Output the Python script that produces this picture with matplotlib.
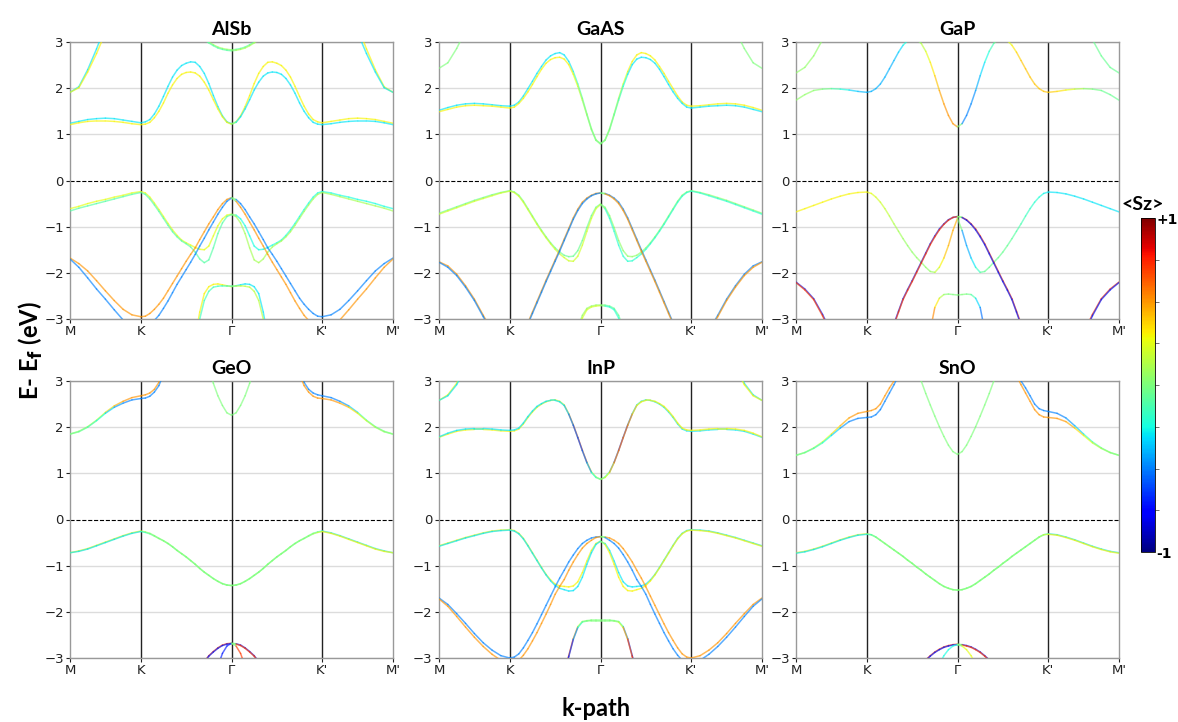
import matplotlib
matplotlib.use('Agg')
import matplotlib.pyplot as plt
from matplotlib.collections import LineCollection
from matplotlib.colors import Normalize
from matplotlib.cm import ScalarMappable
from matplotlib.ticker import MultipleLocator
import numpy as np

# k-path: high-symmetry points and the sampled points on the half path M -> K -> Gamma
k_labels = ['M', 'K', 'Γ', "K'", "M'"]
k_nodes = [0.0, 0.78, 1.78, 2.78, 3.56]
k_half = [0.0, 0.0975, 0.195, 0.2925, 0.39, 0.4875, 0.585, 0.6825, 0.78,
          0.83, 0.88, 0.93, 0.98, 1.03, 1.08, 1.13, 1.18, 1.23, 1.28,
          1.33, 1.38, 1.43, 1.48, 1.53, 1.58, 1.63, 1.68, 1.73, 1.78]

# band energies (eV) read on the half path M -> K -> Gamma (29 points);
# the Gamma -> K' -> M' half is the time-reversed copy (same E, opposite <Sz>)
HI = 4.5
LO = -4.5

alsb_e = [
    [1.91, 2.03, 2.40, 2.85, 3.35, 3.90] + [HI] * 23,
    [1.91, 2.01, 2.35, 2.75, 3.20, 3.80] + [HI] * 23,
    [1.24, 1.28, 1.32, 1.34, 1.35, 1.34, 1.31, 1.28, 1.25,
     1.27, 1.32, 1.44, 1.61, 1.82, 2.04, 2.24, 2.39, 2.49, 2.54,
     2.57, 2.56, 2.47, 2.32, 2.10, 1.84, 1.60, 1.40, 1.27, 1.23],
    [1.21, 1.25, 1.28, 1.29, 1.29, 1.28, 1.26, 1.23, 1.21,
     1.22, 1.26, 1.36, 1.50, 1.68, 1.89, 2.07, 2.21, 2.30, 2.34,
     2.35, 2.33, 2.26, 2.13, 1.96, 1.75, 1.55, 1.38, 1.26, 1.22],
    [HI] * 22 + [3.07, 3.00, 2.94, 2.89, 2.86, 2.84, 2.83],
    [HI] * 22 + [3.05, 2.98, 2.92, 2.87, 2.84, 2.82, 2.81],
    [-0.61, -0.56, -0.50, -0.45, -0.41, -0.36, -0.32, -0.27, -0.24,
     -0.27, -0.36, -0.49, -0.63, -0.78, -0.93, -1.07, -1.19, -1.29, -1.35,
     -1.40, -1.45, -1.49, -1.50, -1.42, -1.20, -0.98, -0.83, -0.75, -0.73],
    [-0.66, -0.60, -0.55, -0.50, -0.45, -0.40, -0.35, -0.30, -0.26,
     -0.30, -0.40, -0.53, -0.67, -0.82, -0.97, -1.11, -1.22, -1.31, -1.37,
     -1.44, -1.55, -1.70, -1.78, -1.72, -1.46, -1.15, -0.92, -0.78, -0.74],
    [-1.68, -1.80, -1.96, -2.17, -2.39, -2.60, -2.79, -2.91, -2.95,
     -2.94, -2.88, -2.79, -2.68, -2.55, -2.39, -2.23, -2.07, -1.91, -1.75,
     -1.60, -1.46, -1.28, -1.11, -0.94, -0.79, -0.63, -0.50, -0.41, -0.37],
    [-1.70, -1.88, -2.11, -2.35, -2.57, -2.80, -3.02, -3.18, -3.25,
     -3.22, -3.12, -3.03, -2.92, -2.77, -2.61, -2.43, -2.25, -2.09, -1.93,
     -1.77, -1.60, -1.42, -1.25, -1.07, -0.90, -0.73, -0.58, -0.45, -0.38],
    [LO] * 20 + [-3.40, -2.85, -2.45, -2.30, -2.25, -2.24, -2.26, -2.28, -2.30],
    [LO] * 20 + [-3.50, -3.00, -2.60, -2.40, -2.31, -2.29, -2.28, -2.28, -2.28],
]
alsb_sz = [-0.3, 0.3, -0.3, 0.3, 0.1, -0.1, 0.25, -0.1, 0.5, -0.5, 0.3, -0.15]

gaas_e = [
    [2.43, 2.55, 2.86, 3.25, 3.70, 4.20] + [HI] * 23,
    [1.52, 1.58, 1.63, 1.66, 1.67, 1.66, 1.64, 1.62, 1.61,
     1.63, 1.70, 1.83, 1.99, 2.15, 2.32, 2.47, 2.61, 2.70, 2.75,
     2.77, 2.72, 2.58, 2.36, 2.09, 1.78, 1.44, 1.12, 0.88, 0.80],
    [1.49, 1.54, 1.59, 1.62, 1.63, 1.62, 1.61, 1.59, 1.57,
     1.59, 1.67, 1.78, 1.92, 2.08, 2.25, 2.41, 2.54, 2.62, 2.66,
     2.67, 2.63, 2.51, 2.30, 2.04, 1.74, 1.42, 1.10, 0.87, 0.79],
    [-0.71, -0.64, -0.57, -0.50, -0.43, -0.37, -0.31, -0.26, -0.22,
     -0.25, -0.32, -0.45, -0.61, -0.77, -0.93, -1.08, -1.22, -1.35, -1.46,
     -1.55, -1.62, -1.65, -1.64, -1.52, -1.30, -1.02, -0.76, -0.58, -0.51],
    [-0.73, -0.66, -0.59, -0.52, -0.45, -0.39, -0.33, -0.27, -0.23,
     -0.26, -0.34, -0.47, -0.63, -0.79, -0.95, -1.10, -1.24, -1.37, -1.49,
     -1.59, -1.67, -1.74, -1.75, -1.64, -1.40, -1.10, -0.82, -0.61, -0.52],
    [-1.76, -1.85, -2.03, -2.28, -2.57, -2.92, -3.25, -3.60, -3.80,
     -3.75, -3.60, -3.35, -3.08, -2.85, -2.62, -2.39, -2.16, -1.94, -1.72,
     -1.50, -1.27, -1.04, -0.81, -0.62, -0.47, -0.38, -0.32, -0.28, -0.27],
    [-1.77, -1.88, -2.06, -2.31, -2.60, -2.95, -3.28, -3.62, -3.80,
     -3.77, -3.62, -3.38, -3.11, -2.88, -2.65, -2.42, -2.19, -1.97, -1.75,
     -1.53, -1.30, -1.07, -0.84, -0.65, -0.50, -0.40, -0.33, -0.29, -0.27],
    [LO] * 22 + [-3.60, -3.20, -2.92, -2.77, -2.72, -2.70, -2.70],
    [LO] * 22 + [-3.70, -3.30, -2.98, -2.80, -2.74, -2.72, -2.71],
]
gaas_sz = [
    0.0,
    [-0.3] * 23 + [-0.2, -0.1, -0.05, 0.0, 0.0, 0.0],
    [0.3] * 23 + [0.2, 0.1, 0.05, 0.0, 0.0, 0.0],
    -0.05, 0.2, 0.5, -0.5, 0.05, 0.2,
]

gap_e = [
    [2.33, 2.45, 2.70, 3.05, 3.50, 4.00] + [HI] * 23,
    [1.74, 1.86, 1.95, 1.98, 1.99, 1.98, 1.96, 1.93, 1.91,
     1.93, 1.99, 2.09, 2.24, 2.42, 2.60, 2.78, 2.93, 3.03, 3.08,
     3.06, 2.97, 2.80, 2.56, 2.27, 1.95, 1.66, 1.41, 1.23, 1.16],
    [-0.68, -0.61, -0.54, -0.47, -0.40, -0.34, -0.29, -0.26, -0.25,
     -0.28, -0.36, -0.47, -0.61, -0.77, -0.94, -1.10, -1.26, -1.41, -1.55,
     -1.67, -1.77, -1.88, -1.97, -1.99, -1.88, -1.68, -1.41, -1.08, -0.82],
    [-2.20, -2.35, -2.56, -2.90, -3.30, -3.70, -4.00, -4.30, LO,
     -4.40, -4.20, -3.90, -3.60, -3.35, -3.10, -2.83, -2.56, -2.36, -2.17,
     -1.97, -1.77, -1.57, -1.37, -1.20, -1.05, -0.94, -0.85, -0.80, -0.78],
    [-2.21, -2.37, -2.58, -2.93, -3.35, -3.72, -4.00, -4.30, LO,
     -4.40, -4.20, -3.92, -3.62, -3.37, -3.13, -2.85, -2.58, -2.38, -2.19,
     -1.99, -1.79, -1.59, -1.39, -1.22, -1.07, -0.95, -0.86, -0.80, -0.78],
    [LO] * 22 + [-3.25, -2.75, -2.55, -2.47, -2.46, -2.47, -2.48],
]
gap_sz = [
    0.05,
    [0.05, 0.05, 0.05, 0.0, -0.05, -0.2, -0.3, -0.38, -0.4,
     -0.4, -0.4, -0.4, -0.4, -0.4, -0.4, -0.35, -0.3, -0.2, -0.1,
     0.0, 0.1, 0.2, 0.3, 0.35, 0.45, 0.5, 0.5, 0.5, 0.5],
    [0.3] * 9 + [0.25, 0.22, 0.2, 0.18, 0.15, 0.12, 0.1, 0.08, 0.05, 0.05,
                 0.05, 0.05, 0.05, 0.05, 0.1, 0.25, 0.35, 0.45, 0.45, 0.45],
    -0.7,
    0.7,
    [0.6] * 23 + [0.45, 0.2, 0.05, 0.0, 0.0, 0.0],
]

geo_e = [
    [1.85, 1.91, 2.01, 2.15, 2.32, 2.46, 2.56, 2.64, 2.68,
     2.70, 2.74, 2.82, 2.97, 3.25, 3.60] + [HI] * 14,
    [1.85, 1.90, 2.00, 2.14, 2.30, 2.43, 2.52, 2.59, 2.62,
     2.63, 2.67, 2.76, 2.90, 3.15, 3.50] + [HI] * 14,
    [HI] * 22 + [4.00, 3.30, 2.95, 2.68, 2.47, 2.31, 2.26],
    [-0.72, -0.68, -0.63, -0.56, -0.49, -0.42, -0.35, -0.29, -0.25,
     -0.27, -0.30, -0.35, -0.41, -0.46, -0.52, -0.59, -0.67, -0.74, -0.81,
     -0.89, -0.97, -1.06, -1.14, -1.21, -1.28, -1.34, -1.39, -1.42, -1.43],
    [-0.72, -0.69, -0.64, -0.57, -0.50, -0.43, -0.36, -0.30, -0.26,
     -0.28, -0.31, -0.36, -0.41, -0.46, -0.52, -0.59, -0.67, -0.74, -0.81,
     -0.89, -0.97, -1.06, -1.14, -1.21, -1.28, -1.34, -1.39, -1.42, -1.43],
    [LO] * 21 + [-3.22, -3.08, -2.95, -2.86, -2.78, -2.72, -2.69, -2.68],
    [LO] * 21 + [-3.23, -3.09, -2.96, -2.87, -2.79, -2.73, -2.70, -2.69],
    [LO] * 24 + [-3.57, -3.18, -2.90, -2.74, -2.68],
]
geo_sz = [
    [0.0, 0.05, 0.1, 0.2, 0.3, 0.4, 0.5, 0.5, 0.5] + [0.5] * 20,
    [0.0, -0.05, -0.1, -0.2, -0.3, -0.4, -0.5, -0.5, -0.5] + [-0.5] * 20,
    0.0,
    [0.3] * 9 + [0.15, 0.05] + [0.0] * 18,
    [-0.3] * 9 + [-0.15, -0.05] + [0.0] * 18,
    0.7,
    -0.7,
    -0.7,
]

inp_e = [
    [2.58, 2.70, 2.95, 3.35, 3.80, 4.20] + [HI] * 23,
    [2.58, 2.68, 2.92, 3.30, 3.75, 4.20] + [HI] * 23,
    [1.78, 1.85, 1.91, 1.94, 1.95, 1.95, 1.94, 1.92, 1.91,
     1.92, 1.96, 2.07, 2.21, 2.33, 2.43, 2.50, 2.55, 2.58, 2.59,
     2.56, 2.48, 2.29, 2.05, 1.78, 1.50, 1.24, 1.03, 0.92, 0.87],
    [1.79, 1.87, 1.93, 1.96, 1.97, 1.97, 1.96, 1.94, 1.93,
     1.94, 1.98, 2.09, 2.23, 2.35, 2.45, 2.51, 2.56, 2.58, 2.58,
     2.55, 2.47, 2.28, 2.04, 1.77, 1.49, 1.23, 1.02, 0.91, 0.87],
    [-0.57, -0.51, -0.45, -0.39, -0.34, -0.29, -0.25, -0.23, -0.22,
     -0.24, -0.30, -0.41, -0.56, -0.72, -0.88, -1.04, -1.19, -1.31, -1.40,
     -1.44, -1.45, -1.46, -1.44, -1.35, -1.15, -0.90, -0.67, -0.52, -0.47],
    [-0.58, -0.52, -0.46, -0.40, -0.35, -0.30, -0.26, -0.24, -0.23,
     -0.25, -0.31, -0.42, -0.57, -0.73, -0.89, -1.05, -1.20, -1.33, -1.43,
     -1.49, -1.52, -1.55, -1.54, -1.45, -1.25, -0.97, -0.72, -0.54, -0.47],
    [-1.70, -1.84, -2.04, -2.25, -2.47, -2.67, -2.83, -2.95, -3.00,
     -2.98, -2.91, -2.78, -2.62, -2.45, -2.26, -2.06, -1.86, -1.66, -1.46,
     -1.27, -1.10, -0.92, -0.77, -0.63, -0.52, -0.45, -0.40, -0.38, -0.37],
    [-1.72, -1.88, -2.10, -2.33, -2.55, -2.75, -2.92, -3.05, -3.10,
     -3.09, -3.05, -2.94, -2.80, -2.63, -2.45, -2.25, -2.05, -1.84, -1.62,
     -1.45, -1.30, -1.10, -0.92, -0.76, -0.62, -0.52, -0.45, -0.39, -0.37],
    [LO] * 20 + [-3.35, -2.95, -2.58, -2.32, -2.21, -2.19, -2.18, -2.18, -2.18],
    [LO] * 20 + [-3.37, -2.97, -2.60, -2.34, -2.22, -2.20, -2.19, -2.19, -2.19],
]
inp_sz = [
    0.3, -0.3,
    [0.3] * 21 + [0.45, 0.55, 0.6, 0.6, 0.5, 0.35, 0.15, 0.0],
    [-0.3] * 21 + [-0.45, -0.55, -0.6, -0.6, -0.5, -0.35, -0.15, 0.0],
    0.3, -0.3, -0.5, 0.5,
    [0.7] * 22 + [0.6, 0.35, 0.1, 0.0, 0.0, 0.0, 0.0],
    [-0.7] * 22 + [-0.6, -0.35, -0.1, 0.0, 0.0, 0.0, 0.0],
]

sno_e = [
    [1.39, 1.45, 1.55, 1.68, 1.85, 2.03, 2.20, 2.30, 2.34,
     2.36, 2.40, 2.50, 2.68, 2.85, 3.00, 3.20, 3.50] + [HI] * 12,
    [1.39, 1.45, 1.54, 1.66, 1.82, 1.98, 2.12, 2.19, 2.21,
     2.22, 2.27, 2.38, 2.56, 2.74, 2.92, 3.12, 3.40] + [HI] * 12,
    [HI] * 19 + [3.40, 3.00, 2.73, 2.48, 2.24, 2.01, 1.80, 1.61, 1.47, 1.41],
    [-0.72, -0.69, -0.64, -0.58, -0.51, -0.44, -0.38, -0.33, -0.31,
     -0.33, -0.38, -0.45, -0.52, -0.59, -0.66, -0.73, -0.80, -0.88, -0.95,
     -1.03, -1.10, -1.18, -1.25, -1.32, -1.39, -1.45, -1.49, -1.52, -1.53],
    [-0.73, -0.70, -0.65, -0.59, -0.52, -0.45, -0.39, -0.34, -0.32,
     -0.33, -0.38, -0.45, -0.52, -0.59, -0.66, -0.73, -0.80, -0.88, -0.95,
     -1.03, -1.10, -1.18, -1.25, -1.32, -1.39, -1.45, -1.49, -1.52, -1.53],
    [LO] * 20 + [-3.15, -3.04, -2.95, -2.87, -2.81, -2.76, -2.73, -2.71, -2.70],
    [LO] * 20 + [-3.16, -3.05, -2.96, -2.88, -2.82, -2.77, -2.74, -2.72, -2.71],
    [LO] * 23 + [-3.38, -3.14, -2.95, -2.82, -2.74, -2.71],
]
sno_sz = [
    [0.0, 0.05, 0.1, 0.2, 0.3, 0.4, 0.5, 0.5, 0.5] + [0.5] * 20,
    [0.0, -0.05, -0.1, -0.2, -0.3, -0.4, -0.5, -0.5, -0.5] + [-0.5] * 20,
    0.0,
    [0.3] * 9 + [0.15, 0.05] + [0.0] * 18,
    [-0.3] * 9 + [-0.15, -0.05] + [0.0] * 18,
    0.7,
    -0.7,
    -0.25,
]

titles = ['AlSb', 'GaAS', 'GaP', 'GeO', 'InP', 'SnO']
panels = [(alsb_e, alsb_sz), (gaas_e, gaas_sz), (gap_e, gap_sz),
          (geo_e, geo_sz), (inp_e, inp_sz), (sno_e, sno_sz)]

norm = Normalize(-1, 1)
k_full = k_half + [2 * k_nodes[2] - k for k in k_half[-2::-1]]


def draw_band(ax, energies, sz):
    """Draw one band over the full path, coloured by <Sz>."""
    if np.isscalar(sz):
        sz = [sz] * len(energies)
    e = list(energies) + list(energies[-2::-1])
    s = list(sz) + [-v for v in sz[-2::-1]]
    pts = np.column_stack([k_full, e])
    segs = np.stack([pts[:-1], pts[1:]], axis=1)
    c = (np.array(s[:-1]) + np.array(s[1:])) / 2
    lc = LineCollection(segs, cmap='jet', norm=norm, linewidth=1.1,
                        alpha=0.65, capstyle='round', zorder=3)
    lc.set_array(c)
    ax.add_collection(lc)


W, H = 1178, 722
fig = plt.figure(figsize=(W / 100, H / 100), dpi=100)

col_left = [70, 439, 796]
row_top = [42, 381]
aw, ah = 323, 277

for i, (title, (bands, szs)) in enumerate(zip(titles, panels)):
    left = col_left[i % 3]
    top = row_top[i // 3]
    ax = fig.add_axes([left / W, 1 - (top + ah) / H, aw / W, ah / H])
    for e, s in zip(bands, szs):
        draw_band(ax, e, s)
    ax.set_xlim(k_nodes[0], k_nodes[-1])
    ax.set_ylim(-3, 3)
    ax.set_yticks(range(-3, 4))
    ax.set_xticks(k_nodes)
    ax.set_xticklabels(k_labels)
    for y in [-3, -2, -1, 1, 2, 3]:
        ax.axhline(y, color='#dcdcdc', lw=1.0, zorder=1)
    ax.axhline(0, color='k', lw=0.8, ls='--', zorder=2)
    for x in k_nodes[1:-1]:
        ax.axvline(x, color='#222222', lw=1.0, zorder=2)
    for sp in ax.spines.values():
        sp.set_color('#999999')
        sp.set_linewidth(1.0)
    ax.tick_params(labelsize=9.5, length=3, pad=1.5, colors='#222222')
    ax.set_title(title, fontsize=14, fontweight='bold', family='Lato', pad=5)

fig.text(0.026, 0.515, r'E- E$_{\mathbf{f}}$ (eV)', rotation=90, fontsize=17,
         fontweight='bold', family='Lato', ha='center', va='center')
fig.text(596 / W, 1 - 708 / H, 'k-path', fontsize=17, fontweight='bold',
         family='Lato', ha='center', va='center')

cax = fig.add_axes([1141 / W, 1 - 552 / H, 14 / W, 334 / H])
cb = fig.colorbar(ScalarMappable(norm=norm, cmap='jet'), cax=cax, ticks=[-1, 1])
cb.ax.set_yticklabels(['-1', '+1'], fontsize=10, fontweight='bold')
cb.ax.yaxis.set_minor_locator(MultipleLocator(0.25))
cb.ax.tick_params(length=0, pad=1)
cb.ax.tick_params(which='minor', length=3, color='#555555')
cb.outline.set_linewidth(0.6)
fig.text(1143 / W, 1 - 205 / H, '<Sz>', fontsize=14, fontweight='bold',
         family='Lato', ha='center', va='center')

fig.savefig('out.png', dpi=100)
